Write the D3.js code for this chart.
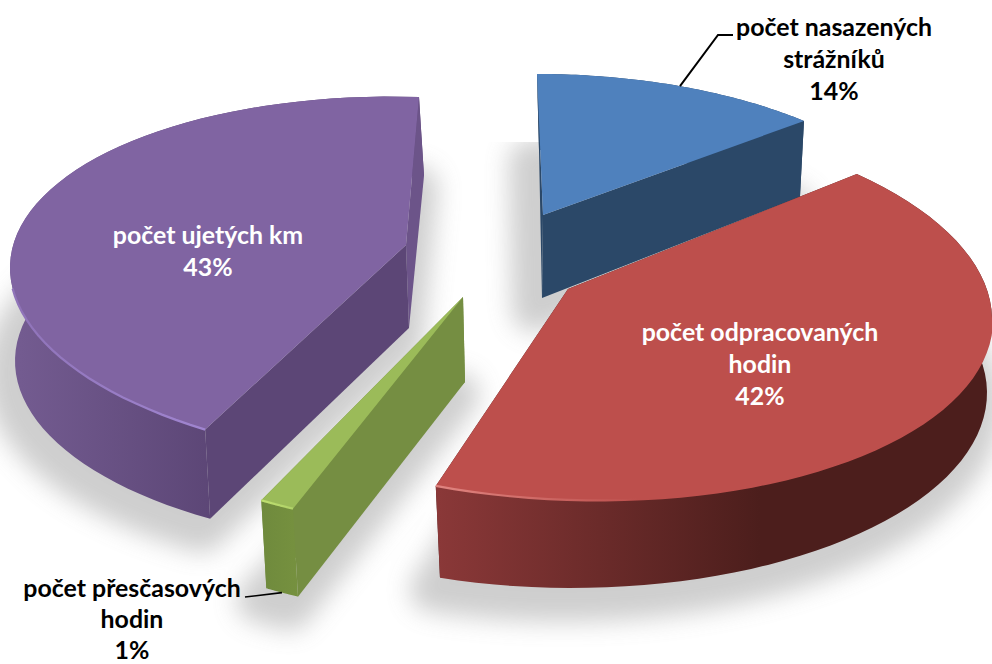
<!DOCTYPE html>
<html>
<head>
<meta charset="utf-8">
<script src="https://cdn.jsdelivr.net/npm/d3@7"></script>
<style>
  html, body { margin: 0; padding: 0; background: #fff; }
  text { font-family: Lato, "Open Sans", sans-serif; font-weight: 700; font-size: 24.9px; text-anchor: middle; dominant-baseline: central; }
</style>
</head>
<body>
<div id="chart"></div>
<script>
var categories = ["počet nasazených strážníků", "počet odpracovaných hodin", "počet přesčasových hodin", "počet ujetých km"];
var values = [14, 42, 1, 43];
var labelLines = [
  ["počet nasazených", "strážníků"],
  ["počet odpracovaných", "hodin"],
  ["počet přesčasových", "hodin"],
  ["počet ujetých km"]
];

var width = 992, height = 664;

// each exploded slice sits on its own fitted ellipse (the picture has perspective)
// angle: pie angle 0-360 mapped to ellipse angle, top/bottom: the two ellipses
var shapes = [
  { apex: [543, 215], apexLow: [542, 298], angle: [0, 300],
    top: { cx: 537, cy: 257, rx: 399, ry: 183, tilt: 0 }, bottom: { cx: 539, cy: 333, rx: 390, ry: 183, tilt: 0 } },
  { apex: [568, 289], apexLow: [570, 379], angle: [-9.1, 361.7],
    top: { cx: 570, cy: 307, rx: 422, ry: 193, tilt: 0.03 }, bottom: { cx: 572, cy: 393, rx: 415, ry: 195, tilt: 0 } },
  { apex: [463, 297], apexLow: [465, 382], angle: [-75.2, 425.2],
    top: { cx: 466, cy: 348, rx: 409, ry: 183, tilt: 0.03 }, bottom: { cx: 471, cy: 436, rx: 409, ry: 183, tilt: 0.03 } },
  { apex: [406, 245], apexLow: [409, 328], angle: [14.7, 360], wallFirst: true,
    top: { cx: 419, cy: 280, rx: 409, ry: 183, tilt: 0.03 }, bottom: { cx: 424, cy: 361, rx: 409, ry: 185, tilt: 0 } }
];

var styles = [
  { face: "#4f81bd", side: "#2b4868", endSide: "#2b4868", wall: ["#2b4868", "#2b4868"], wallX: [537, 804] },
  { face: "#bd4f4c", side: "#4d1f1d", endSide: "#4d1f1d", wall: ["#8a3838", "#4c1e1c"], wallX: [438, 760], glow: ["#e08480", "#bd4f4c"], glowX: [438, 640] },
  { face: "#9bbb59", side: "#758e42", endSide: "#758e42", wall: ["#6f8a3d", "#76913f"], wallX: [262, 298], glow: ["#bfe070", "#b0d268"], glowX: [262, 293] },
  { face: "#8064a2", side: "#5c4676", endSide: "#6c5489", wall: ["#735b90", "#5c4676"], wallX: [20, 213], glow: ["#8f73b8", "#a085d0"], glowX: [10, 205] }
];

var labelPos = [
  { x: 834, y: 25.5, gap: 32, fill: "#000" },
  { x: 760, y: 330.5, gap: 32, fill: "#fff" },
  { x: 132, y: 587, gap: 31, fill: "#000" },
  { x: 208, y: 233.5, gap: 32, fill: "#fff" }
];

var svg = d3.select("#chart").append("svg")
    .attr("width", width)
    .attr("height", height);
var defs = svg.append("defs");

var blur = defs.append("filter")
    .attr("id", "soft")
    .attr("filterUnits", "userSpaceOnUse")
    .attr("x", -50).attr("y", -50)
    .attr("width", width + 100).attr("height", height + 100);
blur.append("feGaussianBlur").attr("stdDeviation", 12);

defs.append("clipPath").attr("id", "floor")
  .append("rect")
    .attr("x", 0).attr("y", 142)
    .attr("width", width).attr("height", height - 142);

function addGradient(id, colours, xs) {
  var g = defs.append("linearGradient")
      .attr("id", id)
      .attr("gradientUnits", "userSpaceOnUse")
      .attr("x1", xs[0]).attr("x2", xs[1])
      .attr("y1", 0).attr("y2", 0);
  g.append("stop").attr("offset", 0).attr("stop-color", colours[0]);
  g.append("stop").attr("offset", 1).attr("stop-color", colours[1]);
}

var pie = d3.pie().sort(null).value(function(d) { return d; });
var arcs = pie(values);
var line = d3.line();

// point on a slice's ellipse for a pie angle in radians
function rimPoint(i, e, a) {
  var toAngle = d3.scaleLinear().domain([0, 2 * Math.PI]).range(shapes[i].angle);
  var phi = toAngle(a) * Math.PI / 180;
  return [
    e.cx + e.rx * Math.sin(phi),
    e.cy - e.ry * Math.cos(phi) + e.tilt * e.rx * Math.sin(phi)
  ];
}

function rimPoints(i, e, a0, a1) {
  return d3.range(0, 61).map(function(k) {
    return rimPoint(i, e, a0 + (a1 - a0) * k / 60);
  });
}

var shadowClip = svg.append("g").attr("clip-path", "url(#floor)");
var shadow = shadowClip.append("g")
    .attr("filter", "url(#soft)")
    .attr("opacity", 0.42)
    .attr("transform", "translate(-8,12)");
var slices = svg.append("g");

arcs.forEach(function(d, i) {
  var s = shapes[i], st = styles[i];
  var upper = rimPoints(i, s.top, d.startAngle, d.endAngle);
  var lower = rimPoints(i, s.bottom, d.startAngle, d.endAngle);

  // floor shadow, only from the underside
  shadow.append("path")
      .attr("d", line([s.apexLow].concat(lower)) + "Z")
      .attr("fill", "#8c8c8c")
      .attr("stroke", "#8c8c8c")
      .attr("stroke-width", 44)
      .attr("stroke-linejoin", "round");

  var g = slices.append("g").attr("class", "slice");
  g.append("title").text(categories[i]);

  addGradient("wall" + i, st.wall, st.wallX);

  function drawWall() {
    g.append("path")
        .attr("d", line(upper.concat(lower.slice().reverse())) + "Z")
        .attr("fill", "url(#wall" + i + ")");
  }

  // outer wall goes over the cut sides, except where a side shows past it
  if (s.wallFirst) drawWall();
  g.append("path")
      .attr("d", line([s.apex, upper[60], lower[60], s.apexLow]) + "Z")
      .attr("fill", st.endSide);
  g.append("path")
      .attr("d", line([s.apex, upper[0], lower[0], s.apexLow]) + "Z")
      .attr("fill", st.side);
  if (!s.wallFirst) drawWall();

  // top face
  g.append("path")
      .attr("d", line([s.apex].concat(upper)) + "Z")
      .attr("fill", st.face);

  // light edge on the front of the rim
  if (st.glow) {
    addGradient("glow" + i, st.glow, st.glowX);
    g.append("path")
        .attr("d", line(upper.filter(function(p) { return p[1] > s.top.cy + 5; })))
        .attr("fill", "none")
        .attr("stroke", "url(#glow" + i + ")")
        .attr("stroke-width", 2.2);
  }
});

// leader lines
var leaderBlue = rimPoint(0, shapes[0].top, (arcs[0].startAngle + arcs[0].endAngle) / 2);
var leaderGreen = rimPoint(2, shapes[2].bottom, (arcs[2].startAngle + arcs[2].endAngle) / 2);
svg.append("path")
    .attr("d", line([leaderBlue, [718, 35], [733, 35]]))
    .attr("fill", "none")
    .attr("stroke", "#000")
    .attr("stroke-width", 2);
svg.append("path")
    .attr("d", line([[245, 597], leaderGreen]))
    .attr("fill", "none")
    .attr("stroke", "#000")
    .attr("stroke-width", 1.6);

// labels: name lines and then the share
var labels = svg.append("g");
values.forEach(function(v, i) {
  var rows = labelLines[i].concat([v + "%"]);
  labels.selectAll(null)
    .data(rows)
    .enter().append("text")
      .attr("x", labelPos[i].x)
      .attr("y", function(d, k) { return labelPos[i].y + k * labelPos[i].gap; })
      .attr("fill", labelPos[i].fill)
      .text(function(d) { return d; });
});
</script>
</body>
</html>
